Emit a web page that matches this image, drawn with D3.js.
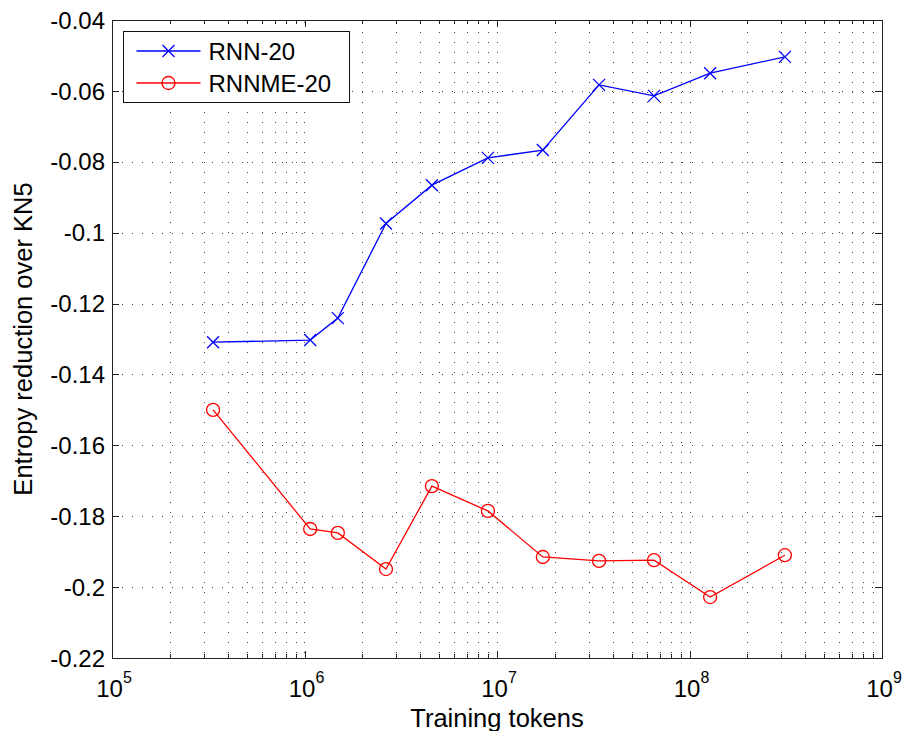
<!DOCTYPE html>
<html>
<head>
<meta charset="utf-8">
<script src="https://cdn.jsdelivr.net/npm/d3@7"></script>
<style>
  body { margin: 0; background: #fff; }
  svg { display: block; font-family: "Liberation Sans", Arial, Helvetica, sans-serif; }
  .grid line { stroke: #444; stroke-width: 1; stroke-dasharray: 1,9; shape-rendering: crispEdges; }
  .axis path, .axis line { stroke: #222; stroke-width: 1; shape-rendering: crispEdges; }
</style>
</head>
<body>
<svg id="chart" width="903" height="731"></svg>
<script>
// training sizes (tokens) and entropy reduction values
var tokens = [3.35e5, 1.07e6, 1.49e6, 2.65e6, 4.59e6, 8.97e6, 1.73e7, 3.39e7, 6.54e7, 1.28e8, 3.13e8];
var rnn20 = [-0.1309, -0.1303, -0.1241, -0.0974, -0.0866, -0.0789, -0.0767, -0.0583, -0.0614, -0.0550, -0.0504];
var rnnme20 = [-0.1500, -0.1836, -0.1847, -0.1949, -0.1715, -0.1785, -0.1915, -0.1926, -0.1924, -0.2028, -0.1910];

var seriesNames = ["RNN-20", "RNNME-20"];
var xDecades = [5, 6, 7, 8, 9];
var yTicks = [-0.22, -0.2, -0.18, -0.16, -0.14, -0.12, -0.1, -0.08, -0.06, -0.04];

var margin = {left: 112, right: 21, top: 20, bottom: 73};
var width = 903, height = 731;

var svg = d3.select("#chart");

var x = d3.scaleLog().domain([1e5, 1e9]).range([margin.left, width - margin.right]);
var y = d3.scaleLinear().domain([-0.22, -0.04]).range([height - margin.bottom, margin.top]);

// minor + major x positions for grid
var xMinor = [];
for (var k = 5; k < 9; k++) {
  for (var m = 2; m <= 9; m++) xMinor.push(m * Math.pow(10, k));
}
var xMajor = xDecades.map(function(d) { return Math.pow(10, d); });

var grid = svg.append("g").attr("class", "grid");
grid.selectAll("line.v")
  .data(xMinor.concat(xMajor.slice(1, -1)))
  .enter().append("line")
    .attr("class", "v")
    .attr("x1", function(d) { return Math.round(x(d)) + 0.5; })
    .attr("x2", function(d) { return Math.round(x(d)) + 0.5; })
    .attr("y1", y.range()[0])
    .attr("y2", y.range()[1])
    .style("stroke-dashoffset", 5);
grid.selectAll("line.h")
  .data(yTicks.slice(1, -1))
  .enter().append("line")
    .attr("class", "h")
    .attr("y1", function(d) { return Math.round(y(d)) + 0.5; })
    .attr("y2", function(d) { return Math.round(y(d)) + 0.5; })
    .attr("x1", x.range()[0])
    .attr("x2", x.range()[1])
    .style("stroke-dashoffset", -10);

// axes, ticks pointing inward on all four sides
svg.append("g").attr("class", "axis")
  .attr("transform", "translate(0," + y.range()[0] + ")")
  .call(d3.axisBottom(x).tickValues(xMajor).tickSize(-7).tickSizeOuter(0).tickFormat(""));
svg.append("g").attr("class", "axis")
  .attr("transform", "translate(0," + y.range()[0] + ")")
  .call(d3.axisBottom(x).tickValues(xMinor).tickSize(-4).tickSizeOuter(0).tickFormat(""));
svg.append("g").attr("class", "axis")
  .attr("transform", "translate(0," + y.range()[1] + ")")
  .call(d3.axisTop(x).tickValues(xMajor).tickSize(-7).tickSizeOuter(0).tickFormat(""));
svg.append("g").attr("class", "axis")
  .attr("transform", "translate(0," + y.range()[1] + ")")
  .call(d3.axisTop(x).tickValues(xMinor).tickSize(-4).tickSizeOuter(0).tickFormat(""));
svg.append("g").attr("class", "axis")
  .attr("transform", "translate(" + x.range()[0] + ",0)")
  .call(d3.axisLeft(y).tickValues(yTicks).tickSize(-7).tickSizeOuter(0).tickFormat(""));
svg.append("g").attr("class", "axis")
  .attr("transform", "translate(" + x.range()[1] + ",0)")
  .call(d3.axisRight(y).tickValues(yTicks).tickSize(-7).tickSizeOuter(0).tickFormat(""));

svg.selectAll(".axis text").remove();

// y tick labels
svg.append("g").selectAll("text")
  .data(yTicks)
  .enter().append("text")
    .attr("x", x.range()[0] - 7)
    .attr("y", function(d) { return y(d); })
    .attr("dy", "0.36em")
    .attr("text-anchor", "end")
    .style("font-size", "24px")
    .style("fill", "#000")
    .text(function(d) { return String(+d.toFixed(2)); });

// x tick labels as 10^k
var xl = svg.append("g").selectAll("text")
  .data(xDecades)
  .enter().append("text")
    .attr("x", function(d) { return x(Math.pow(10, d)) + 2; })
    .attr("y", 697)
    .attr("text-anchor", "middle")
    .style("font-size", "24px")
    .style("fill", "#000");
xl.append("tspan").text("10");
xl.append("tspan").attr("dy", -14).style("font-size", "16px").text(function(d) { return d; });

// axis titles
svg.append("text")
  .attr("x", (x.range()[0] + x.range()[1]) / 2)
  .attr("y", 727)
  .attr("text-anchor", "middle")
  .style("font-size", "25.5px")
  .text("Training tokens");

svg.append("text")
  .attr("transform", "translate(32," + ((y.range()[0] + y.range()[1]) / 2) + ") rotate(-90)")
  .attr("text-anchor", "middle")
  .style("font-size", "25.5px")
  .text("Entropy reduction over KN5");

// series
var line = d3.line()
  .x(function(d, i) { return x(tokens[i]); })
  .y(function(d) { return y(d); });

svg.append("path")
  .datum(rnn20)
  .attr("d", line)
  .style("fill", "none")
  .style("stroke", "#0000ff")
  .style("stroke-width", 1.3);

svg.append("path")
  .datum(rnnme20)
  .attr("d", line)
  .style("fill", "none")
  .style("stroke", "#ff0000")
  .style("stroke-width", 1.3);

function crossPath(cx, cy, s) {
  return "M" + (cx - s) + "," + (cy - s) + "L" + (cx + s) + "," + (cy + s) +
         "M" + (cx - s) + "," + (cy + s) + "L" + (cx + s) + "," + (cy - s);
}

svg.append("g").selectAll("path")
  .data(rnn20)
  .enter().append("path")
    .attr("d", function(d, i) { return crossPath(x(tokens[i]), y(d), 6); })
    .style("stroke", "#0000ff")
    .style("stroke-width", 1.3)
    .style("fill", "none");

svg.append("g").selectAll("circle")
  .data(rnnme20)
  .enter().append("circle")
    .attr("cx", function(d, i) { return x(tokens[i]); })
    .attr("cy", function(d) { return y(d); })
    .attr("r", 6.5)
    .style("stroke", "#ff0000")
    .style("stroke-width", 1.3)
    .style("fill", "none");

// legend
var legend = svg.append("g").attr("transform", "translate(123.5,31.5)");
legend.append("rect")
  .attr("width", 226)
  .attr("height", 71)
  .style("fill", "#fff")
  .style("stroke", "#111")
  .style("stroke-width", 1);

var colors = ["#0000ff", "#ff0000"];
seriesNames.forEach(function(name, i) {
  var ry = 19.5 + i * 32;
  legend.append("line")
    .attr("x1", 13).attr("x2", 77)
    .attr("y1", ry).attr("y2", ry)
    .style("stroke", colors[i])
    .style("stroke-width", 1.3);
  if (i === 0) {
    legend.append("path")
      .attr("d", crossPath(45, ry, 6))
      .style("stroke", colors[i])
      .style("stroke-width", 1.3);
  } else {
    legend.append("circle")
      .attr("cx", 45).attr("cy", ry).attr("r", 6.5)
      .style("stroke", colors[i])
      .style("stroke-width", 1.3)
      .style("fill", "none");
  }
  legend.append("text")
    .attr("x", 85)
    .attr("y", ry)
    .attr("dy", "0.36em")
    .style("font-size", "24px")
    .text(name);
});
</script>
</body>
</html>
